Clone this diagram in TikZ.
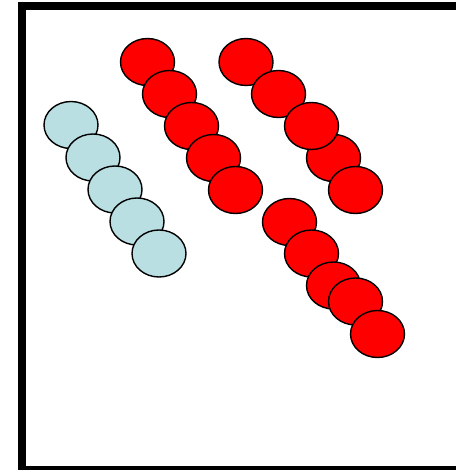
\documentclass[tikz,border=0pt]{standalone}
\usetikzlibrary{shapes.geometric}
\definecolor{ballblue}{RGB}{185,223,227}
\tikzset{
  ball/.style={ellipse, draw=black, line width=1.4bp, inner sep=0pt,
    minimum width=54bp, minimum height=47bp},
  redball/.style={ball, fill=red},
  blueball/.style={ball, fill=ballblue},
  framebar/.style={fill=black}
}
\begin{document}
\begin{tikzpicture}[x=1bp,y=-1bp]
\useasboundingbox (0,0) rectangle (464,470);
\fill[white] (0,0) rectangle (464,470);
% frame (open on the right)
\fill[framebar] (18,2) rectangle (456,10);
\fill[framebar] (18,2) rectangle (26,470);
\fill[framebar] (18,466) rectangle (456,470);
% chain A
\node[redball] (a1) at (147.5,62) {};
\node[redball] (a2) at (169.5,94) {};
\node[redball] (a3) at (191.5,126) {};
\node[redball] (a4) at (213.5,158) {};
\node[redball] (a5) at (235.5,190) {};
% chain B
\node[redball] (b4) at (333.5,158) {};
\node[redball] (b1) at (246,62) {};
\node[redball] (b2) at (278.5,94) {};
\node[redball] (b3) at (311.5,126) {};
\node[redball] (b5) at (355.5,190) {};
% chain C
\node[redball] (c1) at (289.5,222) {};
\node[redball] (c2) at (311.5,253.5) {};
\node[redball] (c3) at (333.5,285.5) {};
\node[redball] (c4) at (355.5,301.5) {};
\node[redball] (c5) at (377.5,334) {};
% chain D
\node[blueball] (d1) at (71,125) {};
\node[blueball] (d2) at (93,157.5) {};
\node[blueball] (d3) at (115,189.5) {};
\node[blueball] (d4) at (137,221.5) {};
\node[blueball] (d5) at (159,253.5) {};
\end{tikzpicture}
\end{document}
